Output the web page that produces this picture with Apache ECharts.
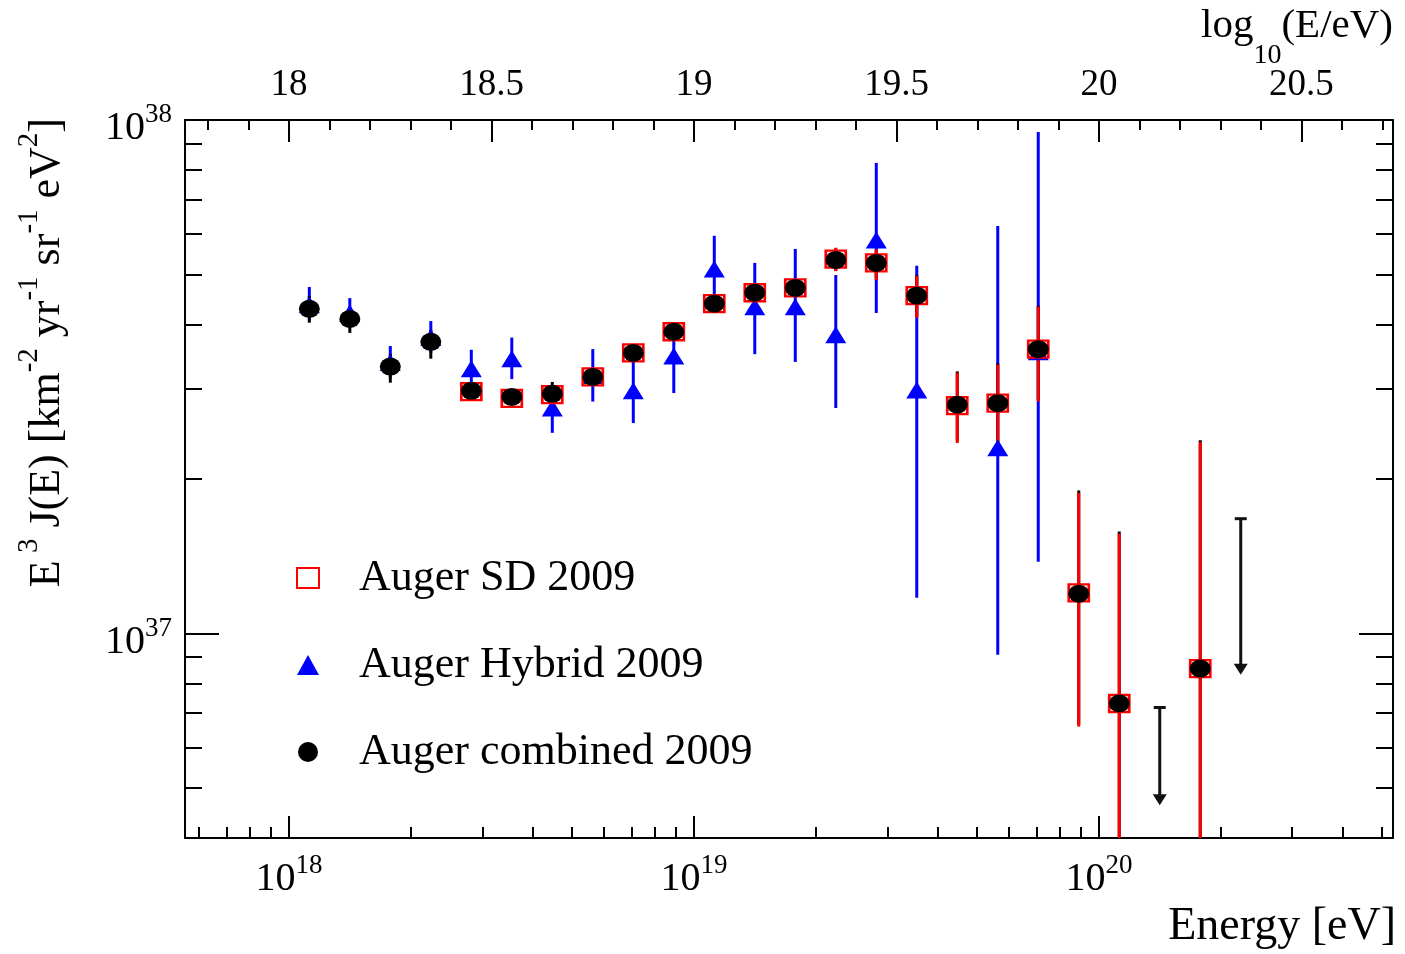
<!DOCTYPE html>
<html><head><meta charset="utf-8">
<script src="https://cdn.jsdelivr.net/npm/echarts@6/dist/echarts.min.js"></script>
<style>html,body{margin:0;padding:0;background:#fff}#chart{width:1405px;height:954px}</style>
</head><body><div id="chart"></div>
<script>
// ---------------- data ----------------
// bin centres, log10(E/eV)
const logE = [18.05, 18.15, 18.25, 18.35, 18.45, 18.55, 18.65, 18.75, 18.85, 18.95, 19.05, 19.15, 19.25, 19.35, 19.45, 19.55, 19.65, 19.75, 19.85, 19.95, 20.05, 20.15, 20.25];
// E^3 J(E) in units of 1e37 km^-2 yr^-1 sr^-1 eV^2
const sdVal  = [null, null, null, null, 2.96, 2.87, 2.92, 3.16, 3.52, 3.87, 4.39, 4.61, 4.71, 5.36, 5.27, 4.55, 2.78, 2.81, 3.58, 1.20, 0.731, null, 0.855];
const sdLo   = [null, null, null, null, 2.90, 2.81, 2.86, 3.09, 3.45, 3.80, 4.31, 4.52, 4.62, 5.08, 4.88, 4.12, 2.35, 2.30, 2.83, 0.659, 0.20, null, 0.20];
const sdHi   = [null, null, null, null, 3.02, 2.93, 2.98, 3.23, 3.59, 3.94, 4.47, 4.70, 4.80, 5.64, 5.60, 4.97, 3.22, 3.34, 4.33, 1.88, 1.565, null, 2.36];
const hybVal = [4.37, 4.21, 3.37, 3.77, 3.28, 3.43, 2.75, 3.18, 2.97, 3.47, 5.13, 4.33, 4.33, 3.82, 5.84, 2.98, null, 2.30, 3.54, null, null, null, null];
const hybLo  = [4.08, 3.94, 3.15, 3.52, 3.01, 3.13, 2.46, 2.83, 2.57, 2.94, 4.46, 3.50, 3.38, 2.75, 4.21, 1.175, null, 0.910, 1.38, null, null, null, null];
const hybHi  = [4.73, 4.50, 3.63, 4.06, 3.57, 3.77, 3.05, 3.58, 3.38, 3.99, 5.95, 5.27, 5.61, 4.99, 8.25, 5.20, null, 6.22, 9.48, null, null, null, null];
const combVal = [4.29, 4.10, 3.31, 3.70, 2.97, 2.89, 2.93, 3.16, 3.52, 3.87, 4.39, 4.61, 4.71, 5.34, 5.27, 4.55, 2.79, 2.81, 3.58, 1.196, 0.731, null, 0.855];
const combLo  = [4.03, 3.85, 3.08, 3.43, 2.90, 2.82, 2.86, 3.09, 3.45, 3.80, 4.31, 4.52, 4.62, 5.08, 4.90, 4.14, 2.37, 2.32, 2.85, 0.665, 0.20, null, 0.20];
const combHi  = [4.54, 4.32, 3.50, 3.90, 3.04, 2.96, 3.09, 3.23, 3.59, 3.94, 4.47, 4.70, 4.80, 5.62, 5.58, 4.99, 3.24, 3.36, 4.35, 1.90, 1.58, null, 2.38];
// upper limits (combined)
const ulLogE = [20.15, 20.35];
const ulTop  = [0.718, 1.674];
const ulTip  = [0.463, 0.832];

// axis ranges and tick labels
const XMIN = 17.743, XMAX = 20.726;      // log10(E/eV)
const YMIN = 0.4, YMAX = 10;             // units of 1e37
const Y_EXP_OFFSET = 37;
const topLabels = [18, 18.5, 19, 19.5, 20, 20.5];
const bottomDecades = [18, 19, 20];
const legendNames = ['Auger SD 2009', 'Auger Hybrid 2009', 'Auger combined 2009'];

// ---------------- helpers ----------------
const FONT = 'Liberation Serif';
const topMinor = [];
for (let i = 178; i <= 207; i++) if (i % 5 !== 0) topMinor.push(i / 10);
const bottomMinor = [];
[17, 18, 19, 20].forEach(n => { for (let k = 2; k <= 9; k++) { const v = n + Math.log10(k); if (v > XMIN && v < XMAX) bottomMinor.push(v); } });
const LYMIN = Math.log10(YMIN), LYMAX = Math.log10(YMAX);
const yMinor = [];
[-1, 0].forEach(n => { for (let k = 2; k <= 9; k++) { const v = n + Math.log10(k); if (v > LYMIN && v < LYMAX) yMinor.push(v); } });
const yMajor = [0, 1];

function pts(vals) { const o = []; logE.forEach((x, i) => { if (vals[i] != null) o.push([x, vals[i]]); }); return o; }
function errs(vals, lo, hi) { const o = []; logE.forEach((x, i) => { if (vals[i] != null) o.push([x, lo[i], hi[i]]); }); return o; }

function errRender(color) {
  return function (params, api) {
    const x = api.value(0);
    const p1 = api.coord([x, api.value(1)]);
    const p2 = api.coord([x, api.value(2)]);
    return { type: 'line', shape: { x1: p1[0], y1: p1[1], x2: p2[0], y2: p2[1] }, style: { stroke: color, lineWidth: 3 } };
  };
}
function arrowRender(params, api) {
  const x = api.value(0);
  const pt = api.coord([x, api.value(1)]);
  const pb = api.coord([x, api.value(2)]);
  const headH = 11, headW = 7;
  return { type: 'group', children: [
    { type: 'line', shape: { x1: pt[0], y1: pt[1], x2: pb[0], y2: pb[1] - headH + 1 }, style: { stroke: '#111', lineWidth: 3 } },
    { type: 'line', shape: { x1: pt[0] - 6, y1: pt[1], x2: pt[0] + 6, y2: pt[1] }, style: { stroke: '#111', lineWidth: 3 } },
    { type: 'polygon', shape: { points: [[pb[0] - headW, pb[1] - headH], [pb[0] + headW, pb[1] - headH], [pb[0], pb[1]]] }, style: { fill: '#111' } }
  ] };
}

const richPow = {
  b: { fontFamily: FONT, fontSize: 40, lineHeight: 54, verticalAlign: 'middle', color: '#000' },
  s: { fontFamily: FONT, fontSize: 27, lineHeight: 27, verticalAlign: 'top', color: '#000' }
};
const lineAx = { show: true, onZero: false, lineStyle: { color: '#000', width: 2 } };
const noLine = { show: false, onZero: false };
function tick(len, vals) { return { show: true, inside: true, length: len, customValues: vals, lineStyle: { color: '#000', width: 2 } }; }

const option = {
  animation: false,
  backgroundColor: '#fff',
  grid: { left: 185, right: 12, top: 120, bottom: 116, containLabel: false, outerBoundsMode: 'none' },
  legend: {
    orient: 'vertical', left: 296, top: 556, padding: 0, itemGap: 43,
    itemWidth: 22, itemHeight: 20,
    data: legendNames,
    textStyle: { fontFamily: FONT, fontSize: 44, lineHeight: 44, color: '#000', padding: [0, 0, 0, 35] }
  },
  xAxis: [
    { type: 'value', position: 'top', min: XMIN, max: XMAX, axisLine: lineAx, splitLine: { show: false },
      axisTick: tick(22, topLabels),
      axisLabel: { customValues: topLabels, margin: 16, fontFamily: FONT, fontSize: 37, color: '#000', formatter: v => String(v) },
      name: '{n|log}{sub|10}{n|(E/eV)}', nameLocation: 'end', nameGap: 0, nameMoveOverlap: false,
      nameTextStyle: { align: 'right', verticalAlign: 'bottom', padding: [0, 0, 74, 0],
        rich: { n: { fontFamily: FONT, fontSize: 41, lineHeight: 40, verticalAlign: 'top', color: '#000' },
                sub: { fontFamily: FONT, fontSize: 28, lineHeight: 26, verticalAlign: 'top', padding: [36, 0, 0, 0], color: '#000' } } } },
    { type: 'value', position: 'top', min: XMIN, max: XMAX, axisLine: noLine, splitLine: { show: false },
      axisTick: tick(10, topMinor), axisLabel: { show: false } },
    { type: 'value', position: 'bottom', min: XMIN, max: XMAX, axisLine: lineAx, splitLine: { show: false },
      axisTick: tick(22, bottomDecades),
      axisLabel: { customValues: bottomDecades, margin: 14, formatter: v => '{b|10}{s|' + Math.round(v) + '}', rich: richPow },
      name: 'Energy [eV]', nameLocation: 'end', nameGap: 3, nameMoveOverlap: false,
      nameTextStyle: { align: 'right', verticalAlign: 'top', padding: [66, 0, 0, 0], fontFamily: FONT, fontSize: 46, color: '#000' } },
    { type: 'value', position: 'bottom', min: XMIN, max: XMAX, axisLine: noLine, splitLine: { show: false },
      axisTick: tick(11, bottomMinor), axisLabel: { show: false } }
  ],
  yAxis: [
    { type: 'log', logBase: 10, position: 'left', min: YMIN, max: YMAX, axisLine: lineAx, splitLine: { show: false },
      axisTick: { show: false },
      axisLabel: { margin: 13, padding: [17, 0, 0, 0], rich: richPow,
        formatter: v => { const l = Math.log10(v); if (Math.abs(l - Math.round(l)) > 1e-6) return ''; return '{b|10}{s|' + (Math.round(l) + Y_EXP_OFFSET) + '}'; } },
      name: '{n|E}{s| 3}{n| J(E) [km}{s|-2}{n| yr}{s|-1}{n| sr}{s|-1}{n| eV}{s|2}{n|]}',
      nameLocation: 'end', nameGap: 2, nameRotate: 90, nameMoveOverlap: false,
      nameTextStyle: { align: 'right', verticalAlign: 'bottom', padding: [0, 0, 116, 0],
        rich: { n: { fontFamily: FONT, fontSize: 44, lineHeight: 54, verticalAlign: 'bottom', color: '#000' },
                s: { fontFamily: FONT, fontSize: 29, lineHeight: 28, verticalAlign: 'top', color: '#000' } } } },
    { type: 'value', position: 'left', min: LYMIN, max: LYMAX, axisLine: noLine, splitLine: { show: false },
      axisTick: tick(34, yMajor), axisLabel: { show: false } },
    { type: 'value', position: 'left', min: LYMIN, max: LYMAX, axisLine: noLine, splitLine: { show: false },
      axisTick: tick(17, yMinor), axisLabel: { show: false } },
    { type: 'value', position: 'right', min: LYMIN, max: LYMAX, axisLine: lineAx, splitLine: { show: false },
      axisTick: tick(34, yMajor), axisLabel: { show: false } },
    { type: 'value', position: 'right', min: LYMIN, max: LYMAX, axisLine: noLine, splitLine: { show: false },
      axisTick: tick(17, yMinor), axisLabel: { show: false } }
  ],
  series: [
    { name: 'Hybrid errors', type: 'custom', xAxisIndex: 0, yAxisIndex: 0, clip: true, renderItem: errRender('#0000ff'),
      encode: { x: 0, y: [1, 2] }, data: errs(hybVal, hybLo, hybHi), silent: true },
    { name: legendNames[1], type: 'scatter', xAxisIndex: 0, yAxisIndex: 0, symbol: 'triangle', symbolSize: [21, 17],
      itemStyle: { color: '#0000ff', opacity: 1 }, data: pts(hybVal), silent: true },
    { name: 'Combined errors', type: 'custom', xAxisIndex: 0, yAxisIndex: 0, clip: true, renderItem: errRender('#000000'),
      encode: { x: 0, y: [1, 2] }, data: errs(combVal, combLo, combHi), silent: true },
    { name: 'SD errors', type: 'custom', xAxisIndex: 0, yAxisIndex: 0, clip: true, renderItem: errRender('#ff0000'),
      encode: { x: 0, y: [1, 2] }, data: errs(sdVal, sdLo, sdHi), silent: true },
    { name: legendNames[0], type: 'scatter', xAxisIndex: 0, yAxisIndex: 0, symbol: 'rect', symbolSize: [20, 17],
      itemStyle: { color: 'rgba(255,255,255,0)', borderColor: '#ff0000', borderWidth: 2.5, opacity: 1 }, data: pts(sdVal), silent: true },
    { name: legendNames[2], type: 'scatter', xAxisIndex: 0, yAxisIndex: 0, symbol: 'circle', symbolSize: [21, 18],
      itemStyle: { color: '#000000', opacity: 1 }, data: pts(combVal), silent: true },
    { name: 'Upper limits', type: 'custom', xAxisIndex: 0, yAxisIndex: 0, clip: true, renderItem: arrowRender,
      encode: { x: 0, y: [1, 2] }, data: ulLogE.map((x, i) => [x, ulTop[i], ulTip[i]]), silent: true }
  ]
};
const chart = echarts.init(document.getElementById('chart'), null, { renderer: 'canvas' });
chart.setOption(option);
</script></body></html>
